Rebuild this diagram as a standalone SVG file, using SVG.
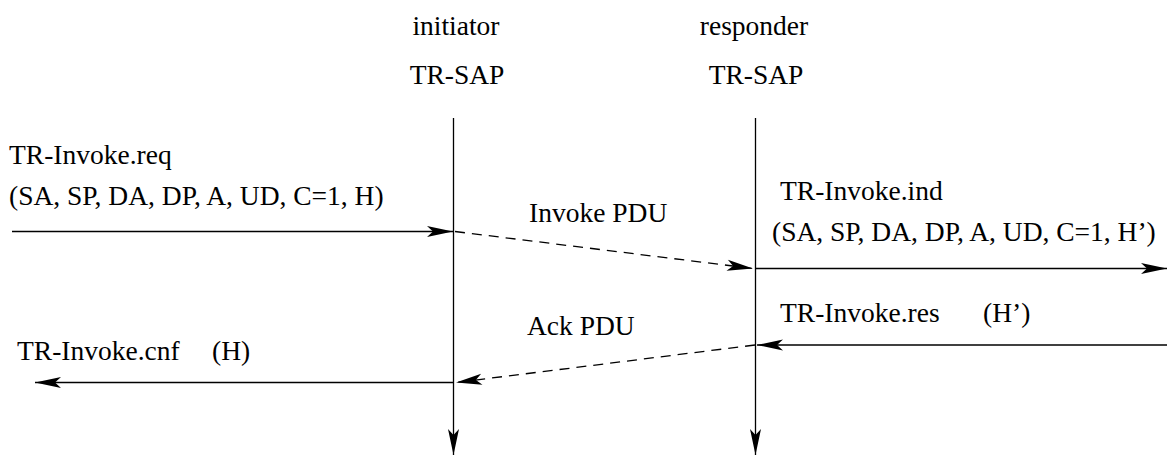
<svg xmlns="http://www.w3.org/2000/svg" width="1167" height="456" viewBox="0 0 1167 456">
<style>
.t{font-size:27.5px;fill:#000}
.l{stroke:#000;stroke-width:1.3;fill:none}
.d{stroke-dasharray:10,7}
</style>
<defs>
<marker id="ah" markerUnits="userSpaceOnUse" markerWidth="30" markerHeight="14" viewBox="-27 -7 30 14" refX="0" refY="0" orient="auto">
<path d="M0,0 L-26,-5.5 L-20,0 L-26,5.5 Z" fill="#000" stroke="none"/>
</marker>
</defs>
<rect width="1167" height="456" fill="#fff"/>
<g font-family="'Liberation Serif', 'DejaVu Serif', serif">
<g id="initiator">
<text class="t" x="456" y="35" text-anchor="middle">initiator</text>
<text class="t" x="457" y="84" text-anchor="middle">TR-SAP</text>
<line class="l" x1="453.5" y1="118" x2="453.5" y2="455" marker-end="url(#ah)"/>
</g>
<g id="responder">
<text class="t" x="754" y="35" text-anchor="middle">responder</text>
<text class="t" x="756" y="84" text-anchor="middle">TR-SAP</text>
<line class="l" x1="755.5" y1="118" x2="755.5" y2="455" marker-end="url(#ah)"/>
</g>
<g id="connectors">
<line class="l" x1="12" y1="231.5" x2="453" y2="231.5" marker-end="url(#ah)"/>
<line class="l d" x1="455" y1="231.5" x2="753" y2="268.5" marker-end="url(#ah)"/>
<line class="l" x1="756" y1="268.5" x2="1167" y2="268.5" marker-end="url(#ah)"/>
<line class="l" x1="1167" y1="345" x2="757" y2="345" marker-end="url(#ah)"/>
<line class="l d" x1="755" y1="345" x2="456" y2="382.5" marker-end="url(#ah)"/>
<line class="l" x1="453" y1="382.5" x2="35" y2="382.5" marker-end="url(#ah)"/>
</g>
<g id="labels">
<text class="t" x="9" y="164">TR-Invoke.req</text>
<text class="t" x="9" y="205">(SA, SP, DA, DP, A, UD, C=1, H)</text>
<text class="t" x="529" y="222">Invoke PDU</text>
<text class="t" x="780" y="200">TR-Invoke.ind</text>
<text class="t" x="772" y="241">(SA, SP, DA, DP, A, UD, C=1, H’)</text>
<text class="t" x="780" y="322">TR-Invoke.res</text>
<text class="t" x="983" y="322">(H’)</text>
<text class="t" x="527" y="335">Ack PDU</text>
<text class="t" x="17" y="360">TR-Invoke.cnf</text>
<text class="t" x="212" y="360">(H)</text>
</g>
</g>
</svg>
